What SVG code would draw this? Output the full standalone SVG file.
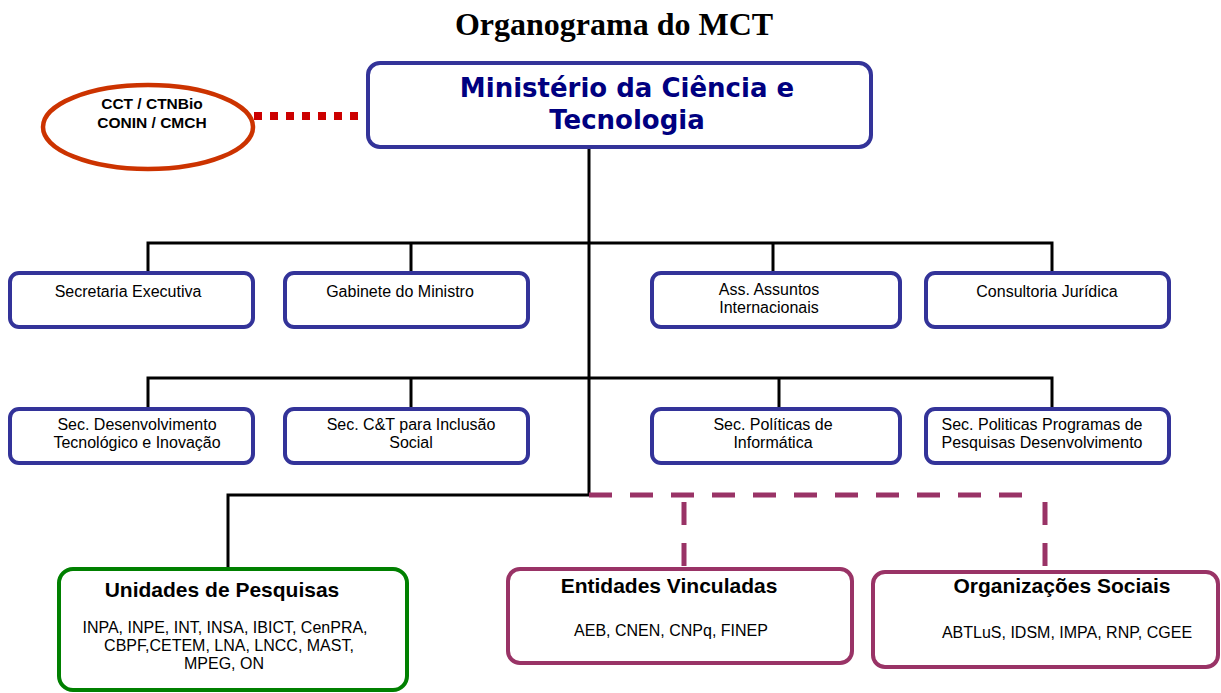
<svg xmlns="http://www.w3.org/2000/svg" width="1221" height="693" viewBox="0 0 1221 693">
<style>
.bx{fill:#fff;stroke:#333399;stroke-width:4}
.t{font-family:"Liberation Sans",Arial,sans-serif;font-size:16px;fill:#000;text-anchor:middle}
.tb{font-family:"Liberation Sans",Arial,sans-serif;font-weight:bold;fill:#000;text-anchor:middle}
.ln{fill:none;stroke:#000;stroke-width:3}
.mg{fill:none;stroke:#993366;stroke-width:5;stroke-dasharray:23 18}
</style>
<rect width="1221" height="693" fill="#fff"/>
<text x="614" y="35" font-family="Liberation Serif,Times New Roman,serif" font-weight="bold" font-size="32" text-anchor="middle">Organograma do MCT</text>
<g id="connectors">
<line x1="254" y1="116" x2="368" y2="116" stroke="#CC0000" stroke-width="8" stroke-dasharray="8 8"/>
<polyline class="ln" points="589,148 589,495 228,495 228,568"/>
<polyline class="ln" points="148,272 148,243 1052,243 1052,272"/>
<line class="ln" x1="411" y1="243" x2="411" y2="272"/>
<line class="ln" x1="773" y1="243" x2="773" y2="272"/>
<polyline class="ln" points="148,409 148,378 1052,378 1052,409"/>
<line class="ln" x1="411" y1="378" x2="411" y2="409"/>
<line class="ln" x1="779" y1="378" x2="779" y2="409"/>
<line class="mg" x1="589" y1="495" x2="1040" y2="495"/>
<line class="mg" x1="684" y1="502" x2="684" y2="569"/>
<line class="mg" x1="1045" y1="502" x2="1045" y2="572"/>
</g>
<g id="cct">
<ellipse cx="148" cy="127" rx="105" ry="42" fill="#fff" stroke="#CC3300" stroke-width="4.5"/>
<text class="tb" x="152" y="109" font-size="15.5">CCT / CTNBio</text>
<text class="tb" x="152" y="128" font-size="15.5">CONIN / CMCH</text>
</g>
<g id="ministerio">
<rect class="bx" x="368" y="63" width="503" height="84" rx="12"/>
<text x="627" y="97" font-family="DejaVu Sans,Verdana,sans-serif" font-weight="bold" font-size="26" fill="#000080" text-anchor="middle">Ministério da Ciência e</text>
<text x="627" y="129" font-family="DejaVu Sans,Verdana,sans-serif" font-weight="bold" font-size="26" fill="#000080" text-anchor="middle">Tecnologia</text>
</g>
<g id="secretaria">
<rect class="bx" x="10" y="273" width="243" height="54" rx="9"/>
<text class="t" x="128" y="297">Secretaria Executiva</text>
</g>
<g id="gabinete">
<rect class="bx" x="285" y="273" width="243" height="54" rx="9"/>
<text class="t" x="400" y="297">Gabinete do Ministro</text>
</g>
<g id="ass">
<rect class="bx" x="652" y="273" width="248" height="54" rx="9"/>
<text class="t" x="769" y="295">Ass. Assuntos</text>
<text class="t" x="769" y="313">Internacionais</text>
</g>
<g id="consultoria">
<rect class="bx" x="926" y="273" width="243" height="54" rx="9"/>
<text class="t" x="1047" y="297">Consultoria Jurídica</text>
</g>
<g id="secdes">
<rect class="bx" x="10" y="409" width="243" height="54" rx="9"/>
<text class="t" x="137" y="430">Sec. Desenvolvimento</text>
<text class="t" x="137" y="448">Tecnológico e Inovação</text>
</g>
<g id="secct">
<rect class="bx" x="285" y="409" width="243" height="54" rx="9"/>
<text class="t" x="411" y="430">Sec. C&amp;T para Inclusão</text>
<text class="t" x="411" y="448">Social</text>
</g>
<g id="secinf">
<rect class="bx" x="652" y="409" width="248" height="54" rx="9"/>
<text class="t" x="773" y="430">Sec. Políticas de</text>
<text class="t" x="773" y="448">Informática</text>
</g>
<g id="secprog">
<rect class="bx" x="926" y="409" width="243" height="54" rx="9"/>
<text class="t" x="1042" y="430">Sec. Politicas Programas de</text>
<text class="t" x="1042" y="448">Pesquisas Desenvolvimento</text>
</g>
<g id="unidades">
<rect x="59" y="569" width="348" height="121" rx="14" fill="#fff" stroke="#008000" stroke-width="4"/>
<text class="tb" x="222" y="597" font-size="21">Unidades de Pesquisas</text>
<text class="t" x="225" y="633">INPA, INPE, INT, INSA, IBICT, CenPRA,</text>
<text class="t" x="229" y="651">CBPF,CETEM, LNA, LNCC, MAST,</text>
<text class="t" x="224" y="669">MPEG, ON</text>
</g>
<g id="entidades">
<rect x="508" y="569" width="344" height="94" rx="12" fill="#fff" stroke="#993366" stroke-width="4"/>
<text class="tb" x="669" y="593" font-size="21">Entidades Vinculadas</text>
<text class="t" x="671" y="636">AEB, CNEN, CNPq, FINEP</text>
</g>
<g id="organizacoes">
<rect x="873" y="572" width="345" height="95" rx="12" fill="#fff" stroke="#993366" stroke-width="4"/>
<text class="tb" x="1062" y="593" font-size="21">Organizações Sociais</text>
<text class="t" x="1067" y="638">ABTLuS, IDSM, IMPA, RNP, CGEE</text>
</g>
</svg>
